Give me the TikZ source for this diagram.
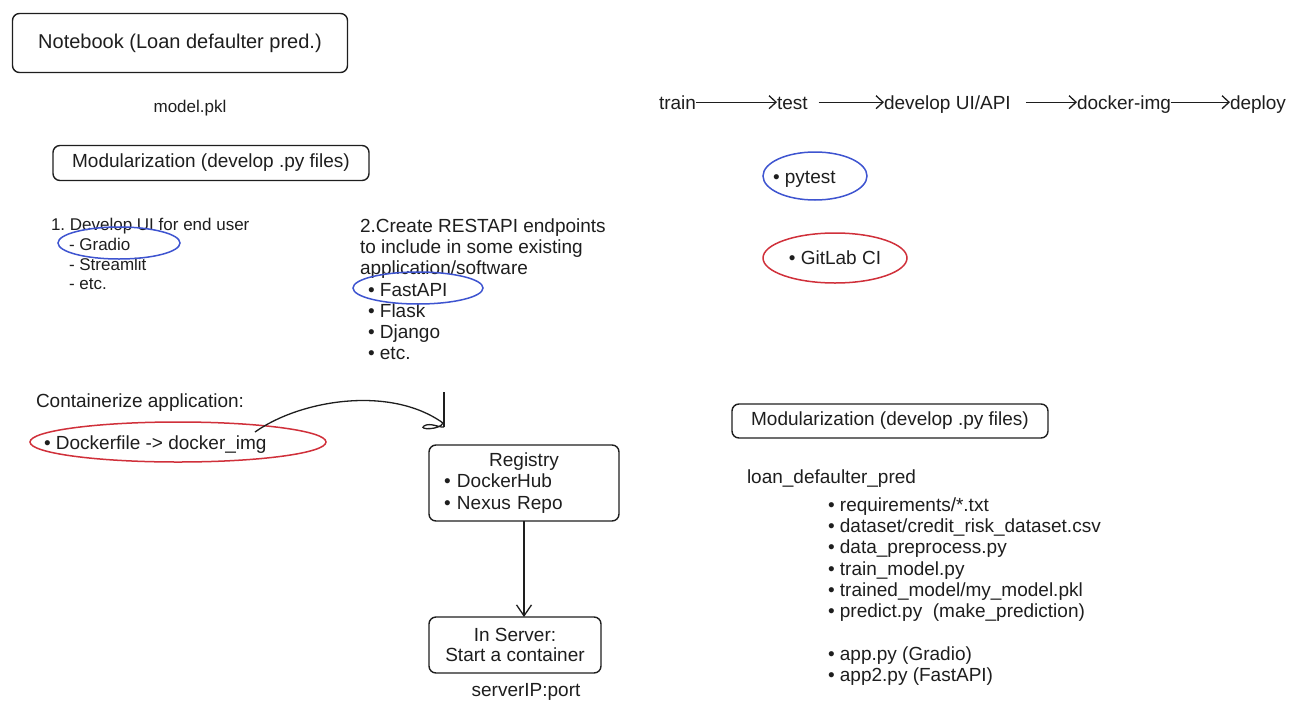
\documentclass[tikz,border=0pt]{standalone}
\usepackage{fontspec}
\setmainfont{Liberation Sans}
\usetikzlibrary{arrows.meta,shapes.geometric}
\definecolor{ink}{RGB}{30,30,30}
\definecolor{ringblue}{RGB}{62,84,208}
\definecolor{ringred}{RGB}{208,48,58}
\begin{document}
\begin{tikzpicture}[x=1pt,y=-1pt,
    every node/.style={inner sep=0pt,outer sep=0pt,text=ink},
    box/.style={draw=ink,line width=1.4pt,rounded corners=7pt},
    txt/.style={font=\fontsize{19}{21.1}\selectfont},
    small/.style={font=\fontsize{17}{19.7}\selectfont},
    flow/.style={txt,anchor=base west,text height=13.6pt,text depth=0pt},
    ring/.style={draw,ellipse,line width=1.5pt},
    conn/.style={draw=ink,line width=1.3pt},
    barb/.style={-{Straight Barb[length=7pt,width=13pt]}}]
      \useasboundingbox (0,0) rectangle (1303,715);
      \node[box,minimum width=335pt,minimum height=59pt,font=\fontsize{20}{24}\selectfont] (notebook) at (180,43) {Notebook (Loan defaulter pred.)};
      \node[small] (pkl) at (190,108) {model.pkl};
      \node[box,txt,minimum width=316pt,minimum height=35pt] (modleft) at (211,163) {Modularization (develop .py files)};
      \node[small,anchor=north west,align=left] (ui) at (51,218.5) {1.\ Develop UI for end user\\\hspace*{18pt}- Gradio\\\hspace*{18pt}- Streamlit\\\hspace*{18pt}- etc.};
      \node[ring,draw=ringblue,minimum width=122pt,minimum height=32pt] (gradio) at (119,243) {};
      \node[txt,anchor=north west,align=left] (rest) at (360,219) {2.Create RESTAPI endpoints\\to include in some existing\\application/software\\\hspace*{8pt}• FastAPI\\\hspace*{8pt}• Flask\\\hspace*{8pt}• Django\\\hspace*{8pt}• etc.};
      \node[ring,draw=ringblue,minimum width=130pt,minimum height=32pt] (fastapi) at (418,288) {};
      \node[txt,anchor=base west] (contain) at (36,407) {Containerize application:};
      \node[txt,anchor=base west] (dockerfile) at (44,449) {• Dockerfile -> docker\_img};
      \node[ring,draw=ringred,minimum width=296pt,minimum height=40pt] (dockring) at (178,442) {};
      \coordinate (curvestart) at (255,432);
      \coordinate (hooktop) at (444,392);
      \coordinate (hook) at (444,427);
      \draw[conn] (curvestart) .. controls (300,400) and (390,385) .. (443,423) .. controls (440,430) and (418,430) .. (424,426) .. controls (430,422) and (440,428) .. (hook);
      \draw[conn] (hooktop) -- (hook);
      \node[box,txt,minimum width=190pt,minimum height=76pt,align=left,text width=160pt] (registry) at (524,483) {\makebox[160pt]{Registry}\\• DockerHub\\• Nexus Repo};
      \node[box,txt,minimum width=172pt,minimum height=56pt,align=center,font=\fontsize{19}{20}\selectfont] (server) at (515,645) {In Server:\\Start a container};
      \draw[conn,-{Straight Barb[length=11pt,width=15pt]}] (registry.south) -- (registry.south |- server.north);
      \node[txt] (port) at (526,692) {serverIP:port};
      \node[flow] (train) at (659,109) {train};
      \node[flow] (test) at (777,109) {test};
      \node[flow] (develop) at (884,109) {develop UI/API};
      \node[flow] (dockerimg) at (1077,109) {docker-img};
      \node[flow] (deploy) at (1230,109) {deploy};
      \draw[conn,barb] (train) -- (test);
      \draw[conn,barb,shorten <=11pt] (test) -- (develop);
      \draw[conn,barb,shorten <=15pt] (develop) -- (dockerimg);
      \draw[conn,barb] (dockerimg) -- (deploy);
      \node[ring,draw=ringblue,minimum width=104pt,minimum height=48pt] (pytest) at (815,176) {};
      \node[txt,anchor=base west] (pytesttxt) at (773,183) {• pytest};
      \node[ring,draw=ringred,txt,minimum width=144pt,minimum height=50pt] (gitlab) at (835,258) {• GitLab CI};
      \node[box,txt,minimum width=316pt,minimum height=34pt] (modright) at (890,421) {Modularization (develop .py files)};
      \node[txt,anchor=base west] (pkg) at (747,483) {loan\_defaulter\_pred};
      \node[txt,anchor=north west,align=left] (files) at (828,498) {• requirements/*.txt\\• dataset/credit\_risk\_dataset.csv\\• data\_preprocess.py\\• train\_model.py\\• trained\_model/my\_model.pkl\\• predict.py\ \ (make\_prediction)\\[22pt]• app.py (Gradio)\\• app2.py (FastAPI)};
    \end{tikzpicture}
\end{document}
